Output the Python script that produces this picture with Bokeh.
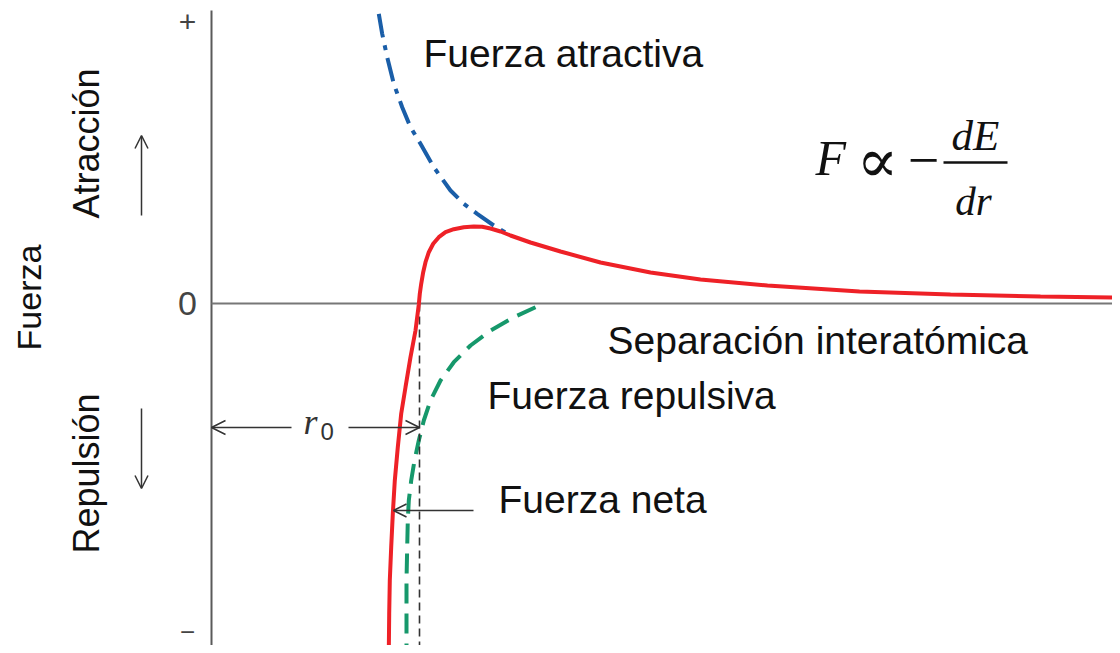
from bokeh.plotting import figure
from bokeh.models import Range1d, Arrow, OpenHead, Label
from bokeh.embed import file_html
from bokeh.resources import INLINE
import math

# ---- data (separation r, force F; arbitrary units) ----
attr_r = [1.673, 1.707, 1.757, 1.823, 1.907, 1.99, 2.09, 2.223, 2.39, 2.523, 2.657, 2.823, 2.99]
attr_F = [2.897, 2.697, 2.463, 2.197, 1.963, 1.763, 1.597, 1.363, 1.13, 0.997, 0.897, 0.78, 0.68]

rep_r = [3.24, 3.023, 2.79, 2.59, 2.423, 2.29, 2.19, 2.123, 2.073, 2.03, 1.997, 1.973, 1.963,
         1.957, 1.95, 1.95, 1.95]
rep_F = [-0.037, -0.137, -0.27, -0.42, -0.587, -0.77, -0.97, -1.17, -1.37, -1.57, -1.77, -1.97,
         -2.17, -2.437, -2.77, -3.103, -3.47]

net_r = [1.773, 1.777, 1.783, 1.797, 1.813, 1.833, 1.863, 1.897, 1.94, 1.99, 2.04, 2.073,
         2.083, 2.097, 2.117, 2.14, 2.173, 2.217, 2.273, 2.34, 2.423, 2.523, 2.623, 2.707,
         2.79, 2.89, 2.99, 3.19, 3.49, 3.89, 4.39, 4.89, 5.56, 6.48, 7.39, 8.29, 9.08]
net_F = [-3.47, -3.103, -2.77, -2.437, -2.103, -1.77, -1.437, -1.103, -0.837, -0.537, -0.27,
         -0.01, 0.097, 0.197, 0.313, 0.413, 0.513, 0.597, 0.663, 0.713, 0.743, 0.763, 0.77,
         0.767, 0.75, 0.72, 0.68, 0.61, 0.52, 0.41, 0.31, 0.24, 0.18, 0.12, 0.09, 0.07, 0.06]

r0 = 2.08
axis_top = 2.93
axis_bottom = -3.45
axis_right = 9.1

FONT = "Liberation Sans"
SERIF = "Liberation Serif"

p = figure(width=1112, height=645, x_range=Range1d(-2.11, 9.01), y_range=Range1d(-3.42, 3.03),
           output_backend="svg", toolbar_location=None, min_border=0,
           x_axis_location=None, y_axis_location=None)
p.grid.visible = False
p.outline_line_color = None
p.background_fill_color = "white"
p.border_fill_color = "white"

# axes
p.line([0, 0], [axis_bottom, axis_top], line_color="#5a5a5a", line_width=2)
p.line([0, axis_right], [0, 0], line_color="#777777", line_width=2)

# curves
p.line(attr_r, attr_F, line_color="#1a5ea8", line_width=4, line_dash="24 8 5 8")
p.line(rep_r, rep_F, line_color="#16986b", line_width=4, line_dash="20 10")
p.line([r0, r0], [0, axis_bottom - 0.05], line_color="#333333", line_width=1.6, line_dash="8 5")
p.line(net_r, net_F, line_color="#ee2127", line_width=4)

# arrows
def arrow(x0, y0, x1, y1, size=14):
    p.add_layout(Arrow(end=OpenHead(size=size, line_width=1.5, line_color="#333333"),
                       x_start=x0, y_start=y0, x_end=x1, y_end=y1,
                       line_width=1.5, line_color="#333333"))

arrow(0.80, -1.24, 0.0, -1.24)
arrow(1.37, -1.24, r0, -1.24)
arrow(2.62, -2.07, 1.82, -2.07, size=13)
arrow(-0.70, 0.88, -0.70, 1.68, size=13)
arrow(-0.70, -1.05, -0.70, -1.85, size=13)

def label(x, y, text, size, font=FONT, style="normal", align="left", angle=0.0,
          color="#111111"):
    p.add_layout(Label(x=x, y=y, text=text, text_font=font, text_font_size=size,
                       text_font_style=style, text_align=align, text_baseline="middle",
                       angle=angle, text_color=color))

label(2.12, 2.50, "Fuerza atractiva", "39px")
label(3.96, -0.37, "Separación interatómica", "39px")
label(2.76, -0.92, "Fuerza repulsiva", "39px")
label(2.87, -1.96, "Fuerza neta", "39px")

label(-1.83, 0.06, "Fuerza", "34px", align="center", angle=math.pi / 2)
label(-1.25, 1.60, "Atracción", "36px", align="center", angle=math.pi / 2)
label(-1.25, -1.70, "Repulsión", "36px", align="center", angle=math.pi / 2)

label(-0.24, 2.82, "+", "30px", align="center", color="#444444")
label(-0.24, 0.00, "0", "34px", align="center", color="#444444")
label(-0.24, -3.28, "\u2212", "26px", align="center", color="#444444")

# r0
label(0.92, -1.18, "r", "36px", font=SERIF, style="italic", color="#333333")
label(1.09, -1.28, "0", "24px", color="#333333")

# formula
label(6.04, 1.455, "F", "50px", font=SERIF, style="italic")
label(6.66, 1.43, "\u221d", "62px", font="DejaVu Serif", align="center")
label(7.12, 1.44, "\u2212", "56px", font=SERIF, align="center")
p.segment(x0=[7.32], y0=[1.41], x1=[7.96], y1=[1.41], line_color="#111111", line_width=2.5)
label(7.64, 1.68, "dE", "43px", font=SERIF, style="italic", align="center")
label(7.62, 1.03, "dr", "41px", font=SERIF, style="italic", align="center")

open("out.html", "w").write(file_html(p, INLINE))
